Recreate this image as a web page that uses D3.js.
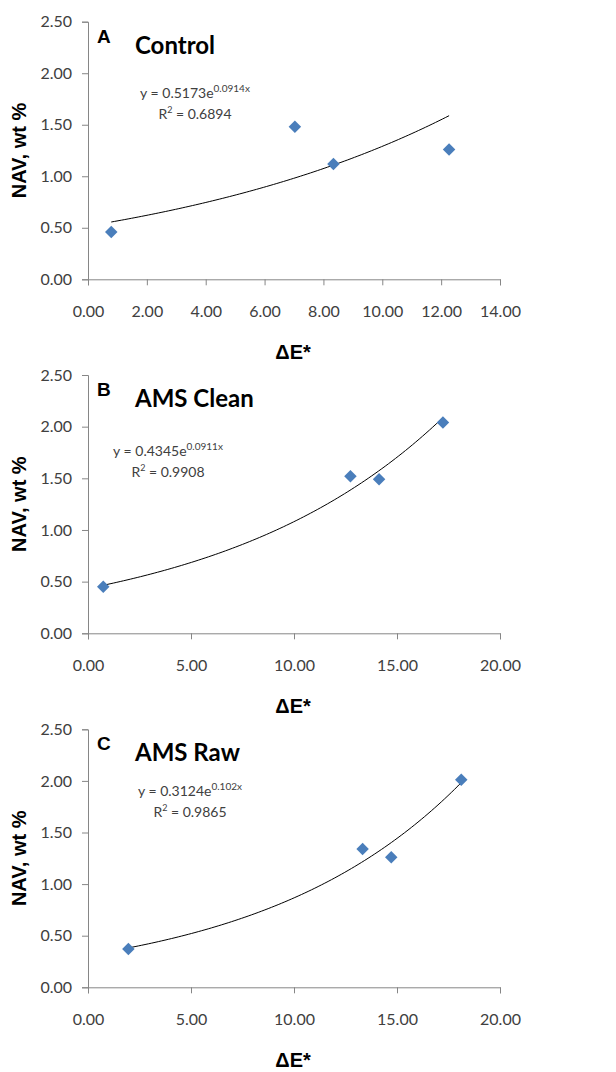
<!DOCTYPE html>
<html><head><meta charset="utf-8">
<script src="https://cdn.jsdelivr.net/npm/d3@7"></script>
<style>
body{margin:0;background:#fff;}
svg text{font-family:Lato,"Open Sans",sans-serif;}
</style></head>
<body><svg id="c" width="616" height="1072"></svg>
<script>
// ---- data ----
const panelLetters = ["A", "B", "C"];
const panelTitles = ["Control", "AMS Clean", "AMS Raw"];
const xA = [0.79, 7.03, 8.34, 12.27];
const yA = [0.46, 1.48, 1.12, 1.26];
const xB = [0.74, 12.74, 14.13, 17.23];
const yB = [0.45, 1.52, 1.49, 2.04];
const xC = [1.96, 13.33, 14.72, 18.12];
const yC = [0.37, 1.34, 1.26, 2.01];
const fitA = [0.5173, 0.0914];
const fitB = [0.4345, 0.0911];
const fitC = [0.3124, 0.102];
const eqCoef = ["0.5173", "0.4345", "0.3124"];
const eqExp = ["0.0914x", "0.0911x", "0.102x"];
const r2 = ["0.6894", "0.9908", "0.9865"];
const xMax = [14, 20, 20];
const xStep = [2, 5, 5];
const yTicks = [0, 0.5, 1.0, 1.5, 2.0, 2.5];
const yLabel = "NAV, wt %";
const xLabel = "ΔE*";

const panels = [
  {x: xA, y: yA, fit: fitA, top: 21.7, bottom: 279.3, eqX: 195, eqY: 98},
  {x: xB, y: yB, fit: fitB, top: 375, bottom: 633.3, eqX: 168, eqY: 456},
  {x: xC, y: yC, fit: fitC, top: 729.3, bottom: 987.3, eqX: 190, eqY: 796}
];
const left = 88, right = 500;
const svg = d3.select("#c");
const axisCol = "#868686", textCol = "#404040", ptCol = "#4A7EBB";

panels.forEach((p, i) => {
  const g = svg.append("g");
  const x = d3.scaleLinear().domain([0, xMax[i]]).range([left, right]);
  const y = d3.scaleLinear().domain([0, 2.5]).range([p.bottom, p.top]);

  const xt = d3.range(0, xMax[i] + 0.001, xStep[i]);
  const xa = g.append("g").attr("transform", `translate(0,${p.bottom})`)
    .call(d3.axisBottom(x).tickValues(xt).tickFormat(d3.format(".2f")).tickSizeOuter(0).tickSize(6).tickPadding(20));
  const ya = g.append("g").attr("transform", `translate(${left},0)`)
    .call(d3.axisLeft(y).tickValues(yTicks).tickFormat(d3.format(".2f")).tickSizeOuter(0).tickSize(6).tickPadding(10));
  [xa, ya].forEach(a => {
    a.select(".domain").attr("stroke", axisCol).attr("stroke-width", 1);
    a.selectAll(".tick line").attr("stroke", axisCol);
    a.selectAll(".tick text").attr("fill", textCol).style("font-size", "16px")
      .style("font-family", "Lato, sans-serif");
  });

  // trend line
  const xs = d3.extent(p.x);
  const pts = d3.range(0, 101).map(k => xs[0] + (xs[1] - xs[0]) * k / 100);
  const line = d3.line().x(d => x(d)).y(d => y(p.fit[0] * Math.exp(p.fit[1] * d)));
  g.append("path").datum(pts).attr("d", line).attr("fill", "none")
    .attr("stroke", "#000").attr("stroke-width", 1);

  // points
  g.selectAll("path.pt").data(p.x.map((d, k) => [d, p.y[k]])).enter().append("path")
    .attr("class", "pt")
    .attr("d", d3.symbol().type(d3.symbolSquare).size(78))
    .attr("transform", d => `translate(${x(d[0])},${y(d[1])}) rotate(45)`)
    .attr("fill", ptCol);

  // letter and title
  g.append("text").attr("x", 97).attr("y", p.top + 21).text(panelLetters[i])
    .style("font-family", "Liberation Sans, Arial, sans-serif").style("font-weight", "bold")
    .style("font-size", "19px").attr("fill", "#000");
  g.append("text").attr("x", 135).attr("y", p.top + 32).text(panelTitles[i])
    .style("font-weight", "bold").style("font-size", "24px").attr("fill", "#000");

  // equation
  const eq = g.append("text").attr("x", p.eqX).attr("y", p.eqY).attr("text-anchor", "middle")
    .attr("fill", textCol).style("font-size", "14px");
  eq.append("tspan").text("y = " + eqCoef[i] + "e");
  eq.append("tspan").attr("dy", -6).style("font-size", "10px").text(eqExp[i]);
  const r = g.append("text").attr("x", p.eqX).attr("y", p.eqY + 21).attr("text-anchor", "middle")
    .attr("fill", textCol).style("font-size", "14px");
  r.append("tspan").text("R");
  r.append("tspan").attr("dy", -6).style("font-size", "9px").text("2");
  r.append("tspan").attr("dy", 6).text(" = " + r2[i]);

  // axis titles
  g.append("text").attr("transform", `translate(26,${(p.top + p.bottom) / 2}) rotate(-90)`)
    .attr("text-anchor", "middle").text(yLabel)
    .style("font-family", "Liberation Sans, Arial, sans-serif").style("font-weight", "bold")
    .style("font-size", "20px").attr("fill", "#000");
  g.append("text").attr("x", 293).attr("y", p.bottom + 80).attr("text-anchor", "middle").text(xLabel)
    .style("font-family", "Liberation Sans, Arial, sans-serif").style("font-weight", "bold")
    .style("font-size", "20px").attr("fill", "#000");
});
</script></body></html>
